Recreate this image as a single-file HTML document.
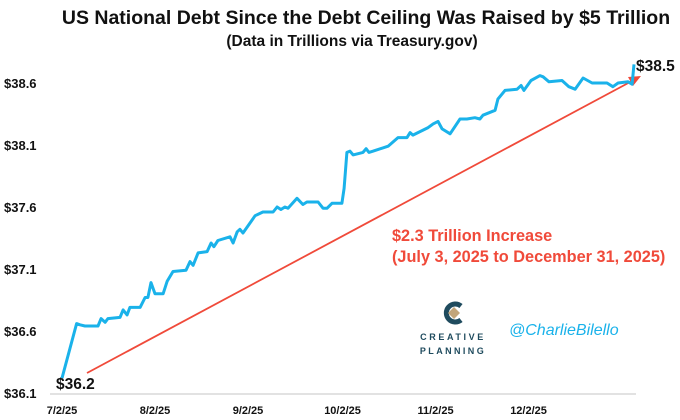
<!DOCTYPE html>
<html><head><meta charset="utf-8"><style>
body{margin:0;background:#fff;}
svg{display:block;font-family:"Liberation Sans",sans-serif;}
</style></head><body>
<svg id="chart" width="680" height="420" viewBox="0 0 680 420" xmlns="http://www.w3.org/2000/svg">
<text x="366" y="24" text-anchor="middle" font-size="19.5" font-weight="bold" fill="#111">US National Debt Since the Debt Ceiling Was Raised by $5 Trillion</text>
<text x="352" y="46" text-anchor="middle" font-size="15.5" font-weight="bold" fill="#111">(Data in Trillions via Treasury.gov)</text>
<line x1="50" y1="394" x2="636" y2="394" stroke="#d9d9d9" stroke-width="1.5"/>
<g id="yticks"></g><g id="xticks"></g>
<line x1="87" y1="373" x2="632" y2="81" stroke="#f04a3a" stroke-width="1.8"/>
<polygon points="641,76 628,77 633,86" fill="#f04a3a"/>
<path id="series" fill="none" stroke="#1ab2ea" stroke-width="3" stroke-linejoin="round"/>
<text x="56" y="389" font-size="15.5" font-weight="bold" fill="#111">$36.2</text>
<text x="636" y="71" font-size="15.5" font-weight="bold" fill="#111">$38.5</text>
<text x="392" y="241" font-size="16.3" font-weight="bold" fill="#f04a3a">$2.3 Trillion Increase</text>
<text x="392" y="262" font-size="16.3" font-weight="bold" fill="#f04a3a">(July 3, 2025 to December 31, 2025)</text>
<g>
<path d="M461,306 A9,9 0 1 0 461,320" fill="none" stroke="#1f4b5e" stroke-width="5"/>
<polygon points="454,307 460,313 454,319 448,313" fill="#c2a57a"/>
<text x="453" y="340" text-anchor="middle" font-size="9" font-weight="bold" letter-spacing="2.6" fill="#1f4b5e">CREATIVE</text>
<text x="453" y="354" text-anchor="middle" font-size="9" font-weight="bold" letter-spacing="2.4" fill="#1f4b5e">PLANNING</text>
</g>
<text x="509" y="335" font-size="16" font-style="italic" fill="#1ab2ea">@CharlieBilello</text>
</svg>
<script>
const days=[0,4.7,5.8,7.4,11.6,12.6,13.9,14.8,18.7,19.7,21,21.9,25.2,26.8,27.7,28.7,30,32.6,33.9,35.8,40,41.3,42.3,43.9,46.8,48.1,49,50.3,54.2,55.2,56.5,57.4,58.4,62.3,63.2,64.8,68.1,69.4,70.6,71.9,72.9,75.8,77.7,79,82.6,84.2,85.5,87.1,90.3,91,91.9,92.9,93.9,97.1,98.1,99,100.3,105.2,108.4,111.3,112.3,113.2,118.1,119.7,121.3,122.6,125.2,128.4,130.6,133.2,134.8,135.8,139.7,140.6,142.9,146.8,148.1,149,151.3,154.2,155.2,157.1,161.3,163.5,165.5,168.1,171,175.8,177.7,179.4,182.6,183.9,184.5];
const values=[36.22,36.66,36.65,36.64,36.64,36.70,36.67,36.70,36.71,36.77,36.73,36.79,36.79,36.87,36.87,36.99,36.90,36.90,37.00,37.08,37.09,37.16,37.13,37.23,37.24,37.31,37.28,37.33,37.36,37.31,37.40,37.42,37.39,37.53,37.54,37.56,37.56,37.60,37.58,37.60,37.59,37.67,37.62,37.64,37.64,37.59,37.59,37.63,37.63,37.75,38.04,38.05,38.02,38.04,38.07,38.04,38.05,38.09,38.16,38.16,38.20,38.18,38.24,38.27,38.29,38.23,38.19,38.31,38.31,38.32,38.31,38.34,38.38,38.47,38.54,38.55,38.58,38.54,38.62,38.66,38.65,38.61,38.62,38.57,38.55,38.64,38.60,38.60,38.57,38.60,38.61,38.59,38.75];
const yTickValues=[36.1,36.6,37.1,37.6,38.1,38.6];
const xTickLabels=["7/2/25","8/2/25","9/2/25","10/2/25","11/2/25","12/2/25"];
const xTickDays=[0,30,60,90.5,120.5,150.5];
const NS="http://www.w3.org/2000/svg";
function xs(d){return 62+d*3.1;}
function ys(v){return 393-(v-36.1)*124;}
let d="";
for(let i=0;i<days.length;i++){d+=(i?"L":"M")+xs(days[i]).toFixed(1)+","+ys(values[i]).toFixed(1);}
document.getElementById("series").setAttribute("d",d);
const yg=document.getElementById("yticks");
yTickValues.forEach(v=>{
 const t=document.createElementNS(NS,"text");
 
 
 t.setAttribute("x",4);t.setAttribute("y",ys(v)+5);
 t.setAttribute("font-size","13");t.setAttribute("font-weight","bold");t.setAttribute("fill","#111");
 t.textContent="$"+v.toFixed(1);yg.appendChild(t);
});
const xg=document.getElementById("xticks");
xTickLabels.forEach((l,i)=>{
 const t=document.createElementNS(NS,"text");
 
 
 t.setAttribute("x",xs(xTickDays[i]));t.setAttribute("y",414);
 t.setAttribute("text-anchor","middle");
 t.setAttribute("font-size","11");t.setAttribute("font-weight","bold");t.setAttribute("fill","#111");
 t.textContent=l;xg.appendChild(t);
});
</script>
</body></html>
